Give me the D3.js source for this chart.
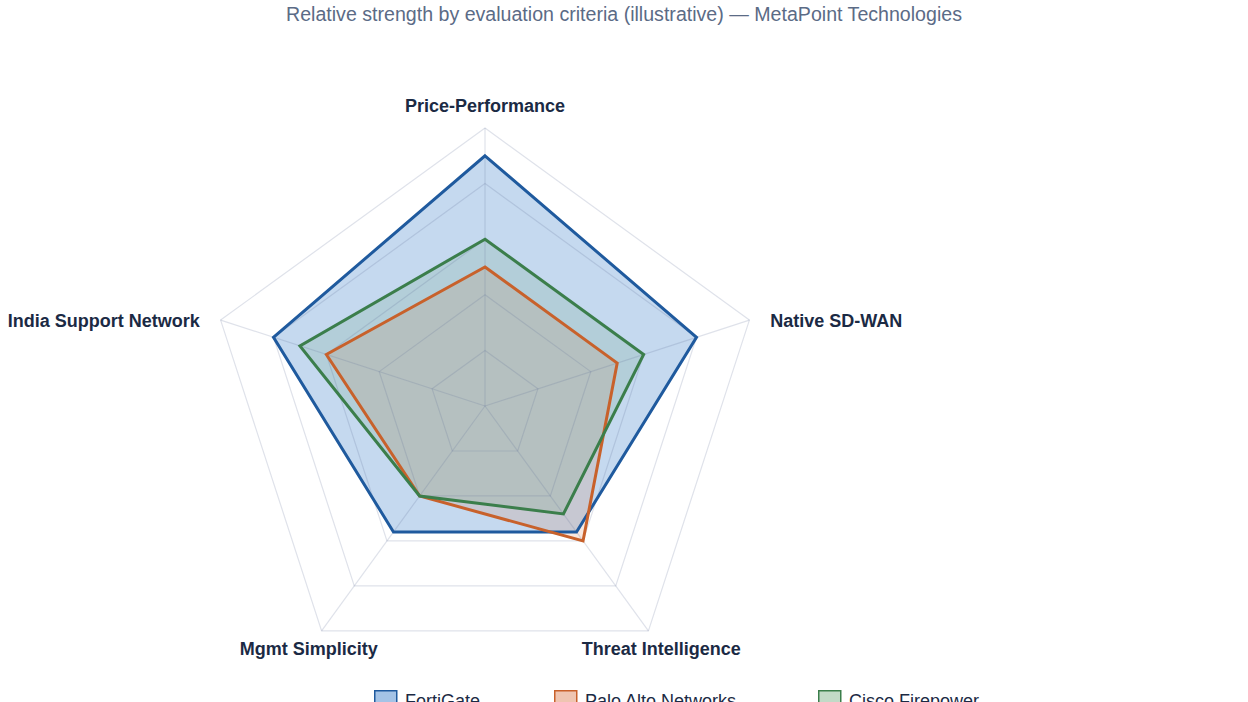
<!DOCTYPE html>
<html>
<head>
<meta charset="utf-8">
<script src="https://cdn.jsdelivr.net/npm/d3@7"></script>
<style>
  html, body { margin: 0; padding: 0; background: #ffffff; overflow: hidden; }
  svg { display: block; font-family: "Liberation Sans", Arial, sans-serif; }
</style>
</head>
<body>
<svg id="chart" width="1248" height="702"></svg>
<script>
// ---- data ----
const axes = ["Price-Performance", "Native SD-WAN", "Threat Intelligence", "Mgmt Simplicity", "India Support Network"];
const seriesNames = ["FortiGate", "Palo Alto Networks", "Cisco Firepower"];
const fortiGate = [9, 8, 5.6, 5.6, 8];
const paloAlto = [5, 5, 6, 4, 6];
const ciscoFirepower = [6, 6, 4.8, 4, 7];
const gridLevels = [2, 4, 6, 8, 10];
const titleText = "Relative strength by evaluation criteria (illustrative) \u2014 MetaPoint Technologies";

// ---- styles ----
const strokeColors = ["#1f5a9e", "#c8612b", "#3b7e4b"];
const fillColors = ["rgb(74,136,205)", "rgb(214,110,60)", "rgb(80,150,95)"];
const fillOpacity = [0.32, 0.16, 0.15];
const swatchOpacity = [0.5, 0.4, 0.35];

const svg = d3.select("#chart");
const cx = 485, cy = 406, R = 278;

const r = d3.scaleLinear().domain([0, 10]).range([0, R]);
const angle = d3.scaleLinear().domain([0, axes.length]).range([0, 2 * Math.PI]);

function pt(i, v) {
  const a = angle(i);
  return [cx + r(v) * Math.sin(a), cy - r(v) * Math.cos(a)];
}

// title
svg.append("text")
  .attr("x", 624).attr("y", 21)
  .attr("text-anchor", "middle")
  .attr("font-size", 19.6)
  .attr("fill", "#5b6b86")
  .text(titleText);

const lineRadial = d3.lineRadial()
  .angle((d, i) => angle(i))
  .radius(d => r(d))
  .curve(d3.curveLinearClosed);

const g = svg.append("g").attr("transform", `translate(${cx},${cy})`);

const data = [fortiGate, paloAlto, ciscoFirepower];

// fills
const fillG = g.append("g");
data.forEach((vals, k) => {
  fillG.append("path")
    .attr("d", lineRadial(vals))
    .attr("fill", fillColors[k])
    .attr("fill-opacity", fillOpacity[k])
    .attr("stroke", "none");
});

// grid (over fills, translucent)
const gridColor = "rgba(95,112,150,0.2)";
const gridG = g.append("g");
gridLevels.forEach(lv => {
  gridG.append("path")
    .attr("d", lineRadial(axes.map(() => lv)))
    .attr("fill", "none")
    .attr("stroke", gridColor)
    .attr("stroke-width", 1.2);
});
axes.forEach((a, i) => {
  const p = pt(i, 10);
  gridG.append("line")
    .attr("x1", 0).attr("y1", 0)
    .attr("x2", p[0] - cx).attr("y2", p[1] - cy)
    .attr("stroke", gridColor)
    .attr("stroke-width", 1.2);
});

// strokes
data.forEach((vals, k) => {
  g.append("path")
    .attr("d", lineRadial(vals))
    .attr("fill", "none")
    .attr("stroke", strokeColors[k])
    .attr("stroke-width", 3)
    .attr("stroke-linejoin", "miter");
});

// axis labels
axes.forEach((name, i) => {
  const a = angle(i);
  const dx = Math.sin(a), dy = -Math.cos(a);
  const lr = R + 22;
  let x = cx + lr * dx, y = cy + lr * dy;
  let anchor = "middle";
  if (dx > 0.9) { anchor = "start"; y += 7; }
  else if (dx < -0.9) { anchor = "end"; y += 7; }
  svg.append("text")
    .attr("x", x).attr("y", y)
    .attr("dy", "0.35em")
    .attr("text-anchor", anchor)
    .attr("font-size", 18)
    .attr("font-weight", "bold")
    .attr("fill", "#1b2a44")
    .text(name);
});

// legend
const legendX = [374, 554, 818];
const legend = svg.append("g");
seriesNames.forEach((name, k) => {
  const lg = legend.append("g").attr("transform", `translate(${legendX[k]},690)`);
  lg.append("rect")
    .attr("x", 0.75).attr("y", 0.75)
    .attr("width", 22).attr("height", 18)
    .attr("fill", fillColors[k])
    .attr("fill-opacity", swatchOpacity[k])
    .attr("stroke", strokeColors[k])
    .attr("stroke-width", 1.5);
  lg.append("text")
    .attr("x", 31).attr("y", 17)
    .attr("font-size", 18)
    .attr("fill", "#1b2a44")
    .text(name);
});
</script>
</body>
</html>
